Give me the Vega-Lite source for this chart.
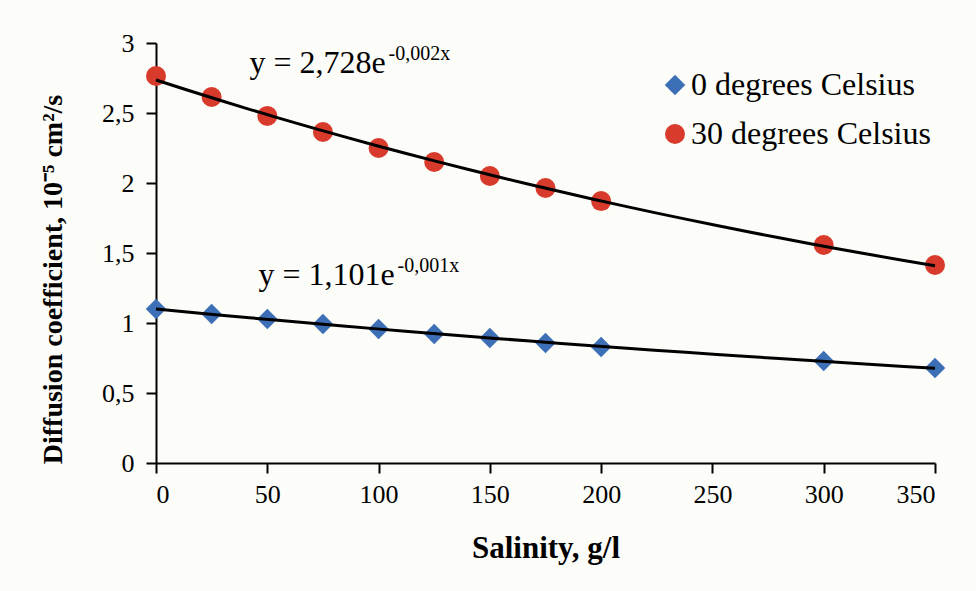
{
  "$schema": "https://vega.github.io/schema/vega-lite/v6.json",
  "width": 779,
  "height": 420,
  "autosize": {"type": "none"},
  "padding": {"left": 156, "top": 43, "right": 41, "bottom": 128},
  "background": "#fcfcf8",
  "config": {
    "view": {"stroke": null},
    "font": "Liberation Serif",
    "axis": {
      "domainColor": "black",
      "domainWidth": 2,
      "tickColor": "black",
      "tickWidth": 2,
      "tickSize": 10,
      "labelColor": "black",
      "labelFont": "Liberation Serif",
      "labelFontSize": 26,
      "titleColor": "black",
      "titleFont": "Liberation Serif",
      "titleFontSize": 31,
      "titleFontWeight": "bold",
      "grid": false
    }
  },
  "datasets": {
    "measurements": [
      {"salinity": 0, "D": 1.100, "series": "0 degrees Celsius"},
      {"salinity": 25, "D": 1.064, "series": "0 degrees Celsius"},
      {"salinity": 50, "D": 1.029, "series": "0 degrees Celsius"},
      {"salinity": 75, "D": 0.993, "series": "0 degrees Celsius"},
      {"salinity": 100, "D": 0.957, "series": "0 degrees Celsius"},
      {"salinity": 125, "D": 0.921, "series": "0 degrees Celsius"},
      {"salinity": 150, "D": 0.893, "series": "0 degrees Celsius"},
      {"salinity": 175, "D": 0.857, "series": "0 degrees Celsius"},
      {"salinity": 200, "D": 0.829, "series": "0 degrees Celsius"},
      {"salinity": 300, "D": 0.729, "series": "0 degrees Celsius"},
      {"salinity": 350, "D": 0.679, "series": "0 degrees Celsius"},
      {"salinity": 0, "D": 2.764, "series": "30 degrees Celsius"},
      {"salinity": 25, "D": 2.614, "series": "30 degrees Celsius"},
      {"salinity": 50, "D": 2.479, "series": "30 degrees Celsius"},
      {"salinity": 75, "D": 2.364, "series": "30 degrees Celsius"},
      {"salinity": 100, "D": 2.250, "series": "30 degrees Celsius"},
      {"salinity": 125, "D": 2.150, "series": "30 degrees Celsius"},
      {"salinity": 150, "D": 2.050, "series": "30 degrees Celsius"},
      {"salinity": 175, "D": 1.964, "series": "30 degrees Celsius"},
      {"salinity": 200, "D": 1.871, "series": "30 degrees Celsius"},
      {"salinity": 300, "D": 1.557, "series": "30 degrees Celsius"},
      {"salinity": 350, "D": 1.414, "series": "30 degrees Celsius"}
    ],
    "eqBase": [
      {"salinity": 42, "D": 2.786, "label": "y = 2,728e"},
      {"salinity": 46, "D": 1.271, "label": "y = 1,101e"}
    ],
    "eqSup": [
      {"salinity": 104.5, "D": 2.88, "label": "-0,002x"},
      {"salinity": 108.5, "D": 1.365, "label": "-0,001x"}
    ]
  },
  "layer": [
    {
      "data": {"name": "measurements"},
      "mark": {"type": "point", "filled": true, "opacity": 1},
      "encoding": {
        "x": {
          "field": "salinity", "type": "quantitative",
          "scale": {"domain": [0, 350], "nice": false},
          "axis": {"values": [0, 50, 100, 150, 200, 250, 300, 350], "title": "Salinity, g/l", "labelPadding": 8, "titlePadding": 26}
        },
        "y": {
          "field": "D", "type": "quantitative",
          "scale": {"domain": [0, 3], "nice": false},
          "axis": {
            "values": [0, 0.5, 1, 1.5, 2, 2.5, 3],
            "labelExpr": "replace(format(datum.value, '.1~f'), '.', ',')",
            "labelPadding": 12,
            "title": "Diffusion coefficient, 10⁻⁵ cm²/s",
            "titleFontSize": 28,
            "titleY": 236,
            "titlePadding": 34
          }
        },
        "color": {
          "field": "series", "type": "nominal",
          "scale": {"domain": ["0 degrees Celsius", "30 degrees Celsius"], "range": ["#3d6fb6", "#d83a2b"]},
          "legend": {
            "title": null, "orient": "none", "legendX": 503, "legendY": 26,
            "labelFont": "Liberation Serif", "labelFontSize": 32, "labelColor": "black", "labelLimit": 500,
            "symbolSize": 330, "labelOffset": 0, "rowPadding": 17, "symbolOpacity": 1
          }
        },
        "shape": {
          "field": "series", "type": "nominal",
          "scale": {"domain": ["0 degrees Celsius", "30 degrees Celsius"], "range": ["diamond", "circle"]},
          "legend": null
        },
        "size": {
          "field": "series", "type": "nominal",
          "scale": {"domain": ["0 degrees Celsius", "30 degrees Celsius"], "range": [420, 400]},
          "legend": null
        }
      }
    },
    {
      "data": {"name": "measurements"},
      "transform": [
        {"regression": "D", "on": "salinity", "groupby": ["series"], "method": "exp", "extent": [0, 350]}
      ],
      "mark": {"type": "line", "color": "black", "strokeWidth": 3},
      "encoding": {
        "x": {"field": "salinity", "type": "quantitative"},
        "y": {"field": "D", "type": "quantitative"},
        "detail": {"field": "series"}
      }
    },
    {
      "data": {"name": "eqBase"},
      "mark": {"type": "text", "align": "left", "baseline": "alphabetic", "fontSize": 32, "font": "Liberation Serif", "color": "black"},
      "encoding": {
        "x": {"field": "salinity", "type": "quantitative"},
        "y": {"field": "D", "type": "quantitative"},
        "text": {"field": "label"}
      }
    },
    {
      "data": {"name": "eqSup"},
      "mark": {"type": "text", "align": "left", "baseline": "alphabetic", "fontSize": 20, "font": "Liberation Serif", "color": "black"},
      "encoding": {
        "x": {"field": "salinity", "type": "quantitative"},
        "y": {"field": "D", "type": "quantitative"},
        "text": {"field": "label"}
      }
    }
  ]
}
